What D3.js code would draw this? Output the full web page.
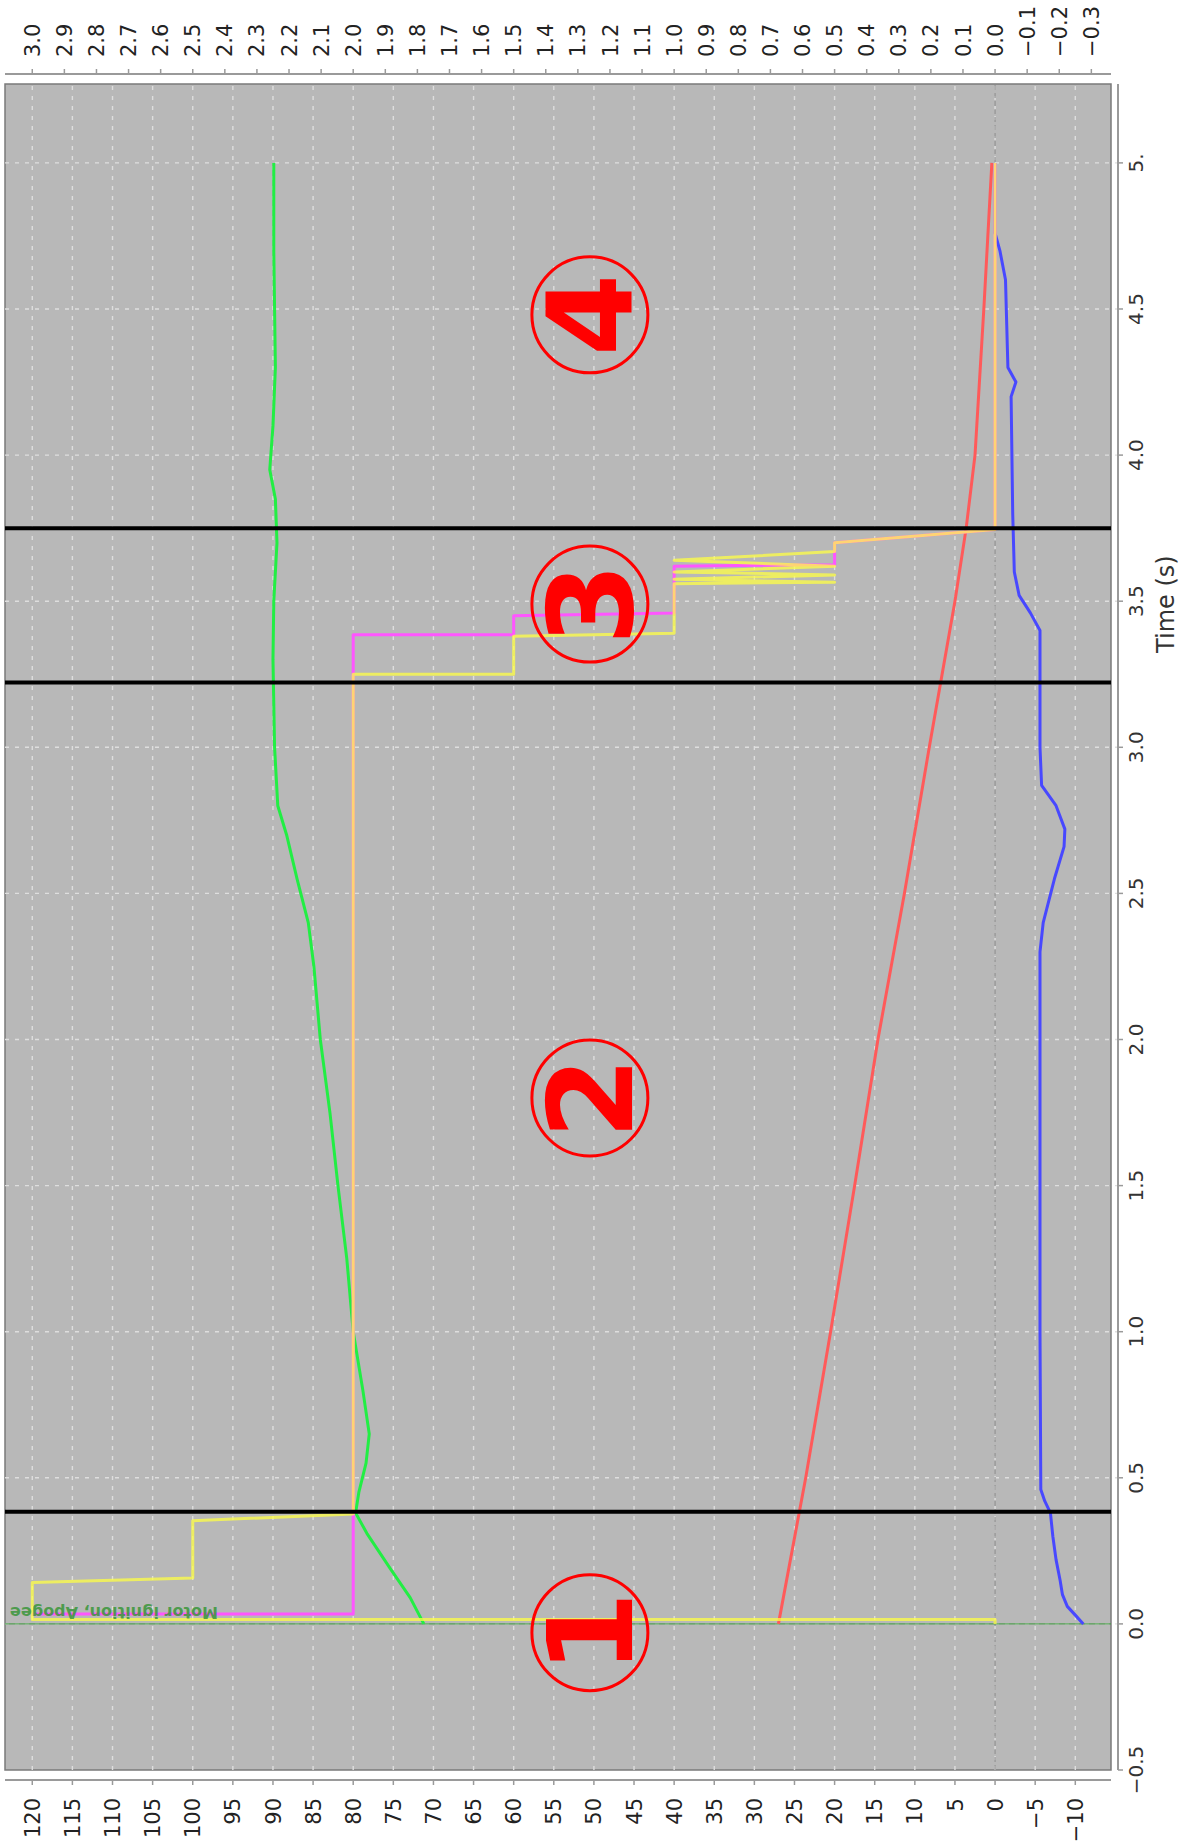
<!DOCTYPE html>
<html>
<head>
<meta charset="utf-8">
<script src="https://cdn.jsdelivr.net/npm/d3@7"></script>
<style>
  body { margin: 0; background: #ffffff; }
  svg { display: block; }
</style>
</head>
<body>
<svg id="chart" width="1187" height="1848"></svg>
<script>
// ---- data: [time (s), value on left axis] ----
const greenTrace = [
  [0.00, 71.2], [0.09, 72.9], [0.19, 75.4], [0.31, 78.3], [0.38, 79.7], [0.45, 79.3],
  [0.55, 78.4], [0.65, 78.0], [0.80, 78.8], [1.00, 80.0], [1.25, 80.8], [1.50, 81.9],
  [1.75, 82.9], [2.00, 84.1], [2.25, 84.9], [2.40, 85.6], [2.55, 87.0], [2.70, 88.3],
  [2.80, 89.4], [2.90, 89.6], [3.00, 89.8], [3.30, 90.0], [3.50, 89.9], [3.70, 89.5],
  [3.85, 89.7], [3.95, 90.4], [4.10, 90.0], [4.30, 89.7], [4.50, 89.8], [4.70, 89.9],
  [5.00, 89.9]
];
const redTrace = [
  [0.00, 27.0], [0.50, 23.6], [1.00, 20.5], [1.50, 17.5], [2.00, 14.6], [2.50, 11.3],
  [3.00, 8.2], [3.50, 5.0], [3.75, 3.6], [4.00, 2.5], [4.50, 1.4], [5.00, 0.4]
];
const blueTrace = [
  [0.00, -11.0], [0.03, -10.0], [0.06, -9.0], [0.10, -8.4], [0.15, -8.1], [0.22, -7.6],
  [0.30, -7.2], [0.38, -6.9], [0.42, -6.2], [0.46, -5.7], [1.00, -5.6], [2.30, -5.6],
  [2.40, -6.0], [2.55, -7.4], [2.66, -8.6], [2.72, -8.7], [2.80, -7.6], [2.87, -5.8],
  [3.00, -5.6], [3.40, -5.6], [3.46, -4.4], [3.52, -3.0], [3.60, -2.4], [3.80, -2.2],
  [4.20, -2.0], [4.25, -2.6], [4.30, -1.6], [4.60, -1.3], [4.70, -0.6], [4.76, 0.0],
  [5.00, 0.0]
];
const pinkTrace = [
  [0.034, 120], [0.034, 80], [3.385, 80], [3.385, 60], [3.45, 60], [3.46, 40],
  [3.62, 40], [3.625, 20], [3.70, 20], [3.745, 0], [5.00, 0]
];
const yellowTrace = [
  [0.000, 0], [0.015, 0], [0.015, 120], [0.142, 120], [0.157, 100], [0.353, 100],
  [0.376, 80], [3.25, 80], [3.25, 60], [3.38, 60], [3.39, 40], [3.56, 40],
  [3.565, 20], [3.575, 40], [3.59, 20], [3.60, 40], [3.62, 20], [3.64, 40],
  [3.67, 20], [3.70, 20], [3.745, 0], [5.00, 0]
];

// phase separators (s) and numbered phase markers [time, value, label]
const phaseBreaks = [0.384, 3.222, 3.75];
const phaseMarks = [[-0.03, 50.5, "1"], [1.80, 50.5, "2"], [3.49, 50.5, "3"], [4.48, 50.5, "4"]];

// flight event
const eventTime = 0;
const eventLabel = "Motor ignition, Apogee";

// axis ticks
const timeTicks = [-0.5, 0, 0.5, 1, 1.5, 2, 2.5, 3, 3.5, 4, 4.5, 5];
const timeLabels = ["\u22120.5", "0.0", "0.5", "1.0", "1.5", "2.0", "2.5", "3.0", "3.5", "4.0", "4.5", "5."];
const leftTicks = d3.range(-10, 121, 5);
const rightTicks = d3.range(-3, 31, 1).map(d => d / 10);
const timeTitle = "Time (s)";

// ---- layout (drawn upright, then turned a quarter turn) ----
const W = 1187, H = 1848;
const P = { x0: 78, x1: 1764, y0: 5, y1: 1111 };

const x = d3.scaleLinear().domain([-0.5, 5.27]).range([P.x0, P.x1]);
const y = d3.scaleLinear().domain([-14.45, 123.4]).range([P.y1, P.y0]);
const yR = d3.scaleLinear().domain([-14.45 / 40, 123.4 / 40]).range([P.y1, P.y0]);

const svg = d3.select("#chart");
const g = svg.append("g").attr("transform", `translate(0,${H}) rotate(-90)`);

const fmtSigned = s => s.replace("-", "\u2212");

// plot area
g.append("rect")
  .attr("x", P.x0).attr("y", P.y0)
  .attr("width", P.x1 - P.x0).attr("height", P.y1 - P.y0)
  .attr("fill", "#b8b8b8").attr("stroke", "#7a7a7a").attr("stroke-width", 1.5);

g.append("clipPath").attr("id", "plotClip")
  .append("rect").attr("x", P.x0).attr("y", P.y0)
  .attr("width", P.x1 - P.x0).attr("height", P.y1 - P.y0);

// grid
const grid = g.append("g").attr("stroke", "#dedede").attr("stroke-width", 1.4)
  .attr("stroke-dasharray", "4,6");
grid.selectAll("line.h").data(leftTicks).join("line")
  .attr("x1", P.x0).attr("x2", P.x1)
  .attr("y1", d => y(d)).attr("y2", d => y(d));
grid.selectAll("line.v").data(timeTicks.filter(t => t > -0.5)).join("line")
  .attr("x1", d => x(d)).attr("x2", d => x(d))
  .attr("y1", P.y0).attr("y2", P.y1 + 7);

// zero reference
g.append("line")
  .attr("x1", P.x0).attr("x2", P.x1).attr("y1", y(0)).attr("y2", y(0))
  .attr("stroke", "#8c8c8c").attr("stroke-width", 1).attr("stroke-dasharray", "5,3");

// event marker line
g.append("line")
  .attr("x1", x(eventTime)).attr("x2", x(eventTime)).attr("y1", P.y0).attr("y2", P.y1)
  .attr("stroke", "#3c9a3c").attr("stroke-width", 1);

// axes
const axisColor = "#9a9a9a";
const labelFont = "'DejaVu Sans', sans-serif";

// left value axis
const la = g.append("g");
la.append("line").attr("x1", P.x0 - 10).attr("x2", P.x0 - 10).attr("y1", P.y0).attr("y2", P.y1)
  .attr("stroke", axisColor).attr("stroke-width", 2);
la.selectAll("line.t").data(leftTicks).join("line")
  .attr("x1", P.x0 - 10).attr("x2", P.x0 - 15)
  .attr("y1", d => y(d)).attr("y2", d => y(d))
  .attr("stroke", axisColor).attr("stroke-width", 1.5);
la.selectAll("text").data(leftTicks).join("text")
  .attr("x", P.x0 - 28).attr("y", d => y(d)).attr("dy", "0.36em")
  .attr("text-anchor", "end")
  .attr("font-family", labelFont).attr("font-size", 21).attr("fill", "#222")
  .text(d => fmtSigned(String(d)));

// right value axis
const ra = g.append("g");
ra.append("line").attr("x1", P.x1 + 10).attr("x2", P.x1 + 10).attr("y1", P.y0).attr("y2", P.y1)
  .attr("stroke", axisColor).attr("stroke-width", 2);
ra.selectAll("line.t").data(rightTicks).join("line")
  .attr("x1", P.x1 + 10).attr("x2", P.x1 + 15)
  .attr("y1", d => yR(d)).attr("y2", d => yR(d))
  .attr("stroke", axisColor).attr("stroke-width", 1.5);
ra.selectAll("text").data(rightTicks).join("text")
  .attr("x", P.x1 + 27).attr("y", d => yR(d)).attr("dy", "0.36em")
  .attr("text-anchor", "start")
  .attr("font-family", labelFont).attr("font-size", 21).attr("fill", "#222")
  .text(d => fmtSigned(d.toFixed(1)));

// time axis
const ta = g.append("g");
ta.append("line").attr("x1", P.x0).attr("x2", P.x1).attr("y1", P.y1 + 7).attr("y2", P.y1 + 7)
  .attr("stroke", axisColor).attr("stroke-width", 2);
ta.selectAll("line.t").data(timeTicks).join("line")
  .attr("x1", d => x(d)).attr("x2", d => x(d))
  .attr("y1", P.y1 + 7).attr("y2", P.y1 + 12)
  .attr("stroke", axisColor).attr("stroke-width", 1.5);
ta.selectAll("text").data(timeTicks).join("text")
  .attr("x", d => x(d)).attr("y", P.y1 + 25).attr("dy", "0.36em")
  .attr("text-anchor", "middle")
  .attr("font-family", labelFont).attr("font-size", 20).attr("fill", "#333")
  .text((d, i) => timeLabels[i]);
ta.append("text")
  .attr("x", x(3.49)).attr("y", P.y1 + 54).attr("dy", "0.36em")
  .attr("text-anchor", "middle")
  .attr("font-family", labelFont).attr("font-size", 24).attr("fill", "#333")
  .text(timeTitle);

// data traces
const line = d3.line().x(d => x(d[0])).y(d => y(d[1]));
const traces = g.append("g").attr("clip-path", "url(#plotClip)")
  .attr("fill", "none").attr("stroke-linejoin", "round");
traces.append("path").datum(greenTrace).attr("d", line)
  .attr("stroke", "#22ee44").attr("stroke-width", 3);
traces.append("path").datum(redTrace).attr("d", line)
  .attr("stroke", "#ff5a5a").attr("stroke-width", 3);
traces.append("path").datum(blueTrace).attr("d", line)
  .attr("stroke", "#4848ff").attr("stroke-width", 3);
traces.append("path").datum(pinkTrace).attr("d", line)
  .attr("stroke", "#ff55ff").attr("stroke-width", 3);
traces.append("path").datum(yellowTrace).attr("d", line)
  .attr("stroke", "#ffff44").attr("stroke-width", 3).attr("stroke-opacity", 0.75);

// event label
g.append("text")
  .attr("transform", `translate(${x(eventTime) + 17},${P.y0 + 5}) rotate(-90)`)
  .attr("text-anchor", "end")
  .attr("font-family", labelFont).attr("font-size", 16).attr("font-weight", "bold")
  .attr("fill", "#3a963a").attr("fill-opacity", 0.85)
  .text(eventLabel);

// phase separators
g.append("g").selectAll("line").data(phaseBreaks).join("line")
  .attr("x1", d => x(d)).attr("x2", d => x(d)).attr("y1", P.y0).attr("y2", P.y1)
  .attr("stroke", "#000").attr("stroke-width", 4);

// phase markers
const marks = g.append("g").selectAll("g").data(phaseMarks).join("g")
  .attr("transform", d => `translate(${x(d[0])},${y(d[1])})`);
marks.append("circle").attr("r", 58)
  .attr("fill", "none").attr("stroke", "#ff0000").attr("stroke-width", 3);
marks.append("text")
  .attr("text-anchor", "middle").attr("dy", "0.36em")
  .attr("font-family", labelFont).attr("font-weight", "bold").attr("font-size", 118)
  .attr("fill", "#ff0000")
  .text(d => d[2]);
</script>
</body>
</html>
